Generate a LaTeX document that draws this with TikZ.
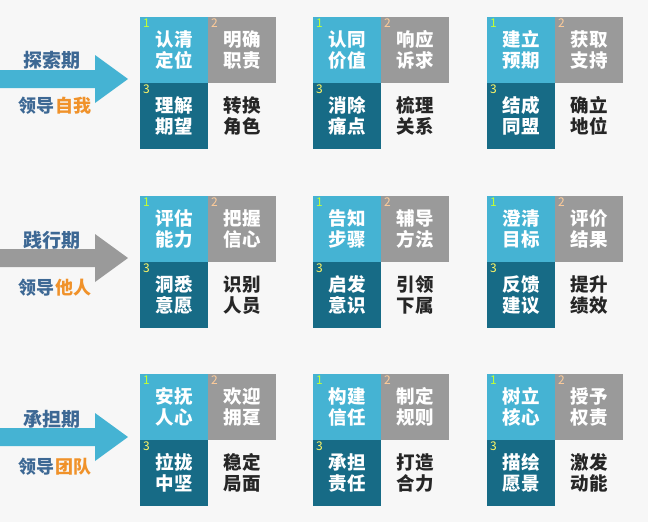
\documentclass[tikz,border=0pt]{standalone}
\usepackage{fontspec}
\setmainfont{Noto Sans CJK SC}
\begin{document}
\begin{tikzpicture}[x=1pt,y=-1pt,
 cell/.style={minimum width=68pt,minimum height=66pt,inner sep=0pt,font=\fontsize{18.5}{21}\selectfont\bfseries,align=center,text=white},
 num/.style={font=\fontsize{12}{12}\selectfont,anchor=north west,inner sep=0pt}]
\useasboundingbox (0,0) rectangle (648,522);
\fill[gray!6] (0,0) rectangle (648,522);
\definecolor{lb}{HTML}{45B3D3}\definecolor{gr}{HTML}{9A9A9A}\definecolor{dk}{HTML}{176B86}
\definecolor{ttl}{HTML}{3D6894}\definecolor{org}{HTML}{F0922A}
\tikzset{stage/.style={font=\fontsize{19}{22}\selectfont\bfseries,text=ttl},lead/.style={font=\fontsize{18}{22}\selectfont\bfseries,text=ttl}}
\newcommand\grp[7]{%
 \node[cell,fill=lb,anchor=north west] (#1a) at (#2,#3) {#4};
 \node[cell,fill=gr,anchor=north west] (#1b) at (#2+68,#3) {#5};
 \node[cell,fill=dk,anchor=north west] (#1c) at (#2,#3+66) {#6};
 \node[cell,text=black!85,anchor=north west] (#1d) at (#2+68,#3+66) {#7};
 \node[num,text=green!30!yellow!80] (#1n1) at (#2+3,#3+2) {1};
 \node[num,text=orange!40] (#1n2) at (#2+71,#3+2) {2};
 \node[num,text=yellow!60] (#1n3) at (#2+3,#3+68) {3};}
\newcommand\arr[2]{\fill[#2] (0,#1-9) -- (95,#1-9) -- (95,#1-24) -- (128,#1) -- (95,#1+24) -- (95,#1+9) -- (0,#1+9) -- cycle;}
\arr{79}{lb}\arr{258}{gr}\arr{437}{lb}
\node[stage] (s1) at (52,60) {探索期};
\node[lead] (l1) at (55,106) {领导\textcolor{org}{自我}};
\node[stage] (s2) at (52,240) {践行期};
\node[lead] (l2) at (55,288) {领导\textcolor{org}{他人}};
\node[stage] (s3) at (52,419) {承担期};
\node[lead] (l3) at (55,467) {领导\textcolor{org}{团队}};
\grp{a}{140}{17}{认清\\定位}{明确\\职责}{理解\\期望}{转换\\角色}
\grp{b}{313}{17}{认同\\价值}{响应\\诉求}{消除\\痛点}{梳理\\关系}
\grp{c}{487}{17}{建立\\预期}{获取\\支持}{结成\\同盟}{确立\\地位}
\grp{d}{140}{196}{评估\\能力}{把握\\信心}{洞悉\\意愿}{识别\\人员}
\grp{e}{313}{196}{告知\\步骤}{辅导\\方法}{启发\\意识}{引领\\下属}
\grp{f}{487}{196}{澄清\\目标}{评价\\结果}{反馈\\建议}{提升\\绩效}
\grp{g}{140}{374}{安抚\\人心}{欢迎\\拥趸}{拉拢\\中坚}{稳定\\局面}
\grp{h}{313}{374}{构建\\信任}{制定\\规则}{承担\\责任}{打造\\合力}
\grp{i}{487}{374}{树立\\核心}{授予\\权责}{描绘\\愿景}{激发\\动能}
\end{tikzpicture}
\end{document}
